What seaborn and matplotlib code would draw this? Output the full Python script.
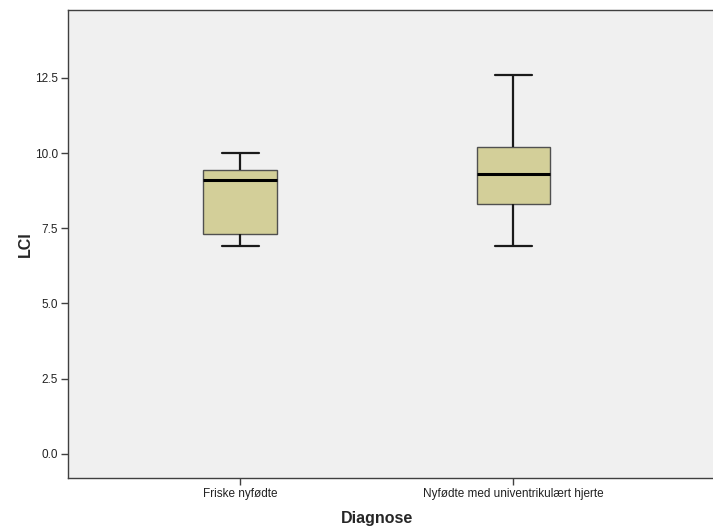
import pandas as pd
import seaborn as sns
import matplotlib.pyplot as plt

# Verdier (min, Q1, median, Q3, maks)
friske = [6.9, 7.3, 9.1, 9.45, 10.0]
univentrikulaer = [6.9, 8.3, 9.3, 10.2, 12.6]
kategorier = ["Friske nyfødte", "Nyfødte med univentrikulært hjerte"]
y_ticks = [0.0, 2.5, 5.0, 7.5, 10.0, 12.5]

df = pd.DataFrame({
    "Diagnose": [kategorier[0]] * len(friske) + [kategorier[1]] * len(univentrikulaer),
    "LCI": friske + univentrikulaer,
})

sns.set_style("white")
plt.rcParams["font.family"] = ["Liberation Sans", "DejaVu Sans"]

fig = plt.figure(figsize=(7.13, 5.29), dpi=100)
ax = fig.add_axes([0.0954, 0.0964, 0.9046, 0.885])
ax.set_facecolor("#f0f0f0")

sns.boxplot(data=df, x="Diagnose", y="LCI", order=kategorier, ax=ax,
            width=0.27, color="#d3cf99", saturation=1, linecolor="#202020",
            linewidth=1.3, whis=1.5,
            boxprops=dict(edgecolor="#505050", linewidth=1.0),
            whiskerprops=dict(color="#1a1a1a", linewidth=1.6),
            capprops=dict(color="#1a1a1a", linewidth=1.6),
            medianprops=dict(color="black", linewidth=2.2))

ax.set_xlim(-0.63, 1.73)
ax.set_ylim(-0.8, 14.76)
ax.set_yticks(y_ticks)
ax.set_yticklabels([f"{v:.1f}" for v in y_ticks])

for side in ["left", "bottom", "top"]:
    ax.spines[side].set_color("#404040")
    ax.spines[side].set_linewidth(1.0)
ax.spines["right"].set_visible(False)

ax.tick_params(axis="both", direction="out", length=5, width=1, color="#404040",
               labelsize=8.5, labelcolor="#222222", pad=2, left=True, bottom=True)
ax.set_xlabel("Diagnose", fontsize=11.5, fontweight="bold")
ax.set_ylabel("LCI", fontsize=11.5, fontweight="bold")
ax.xaxis.set_label_coords(0.479, -0.071)
ax.yaxis.set_label_coords(-0.054, 0.5)

fig.savefig("out.png", dpi=100)
